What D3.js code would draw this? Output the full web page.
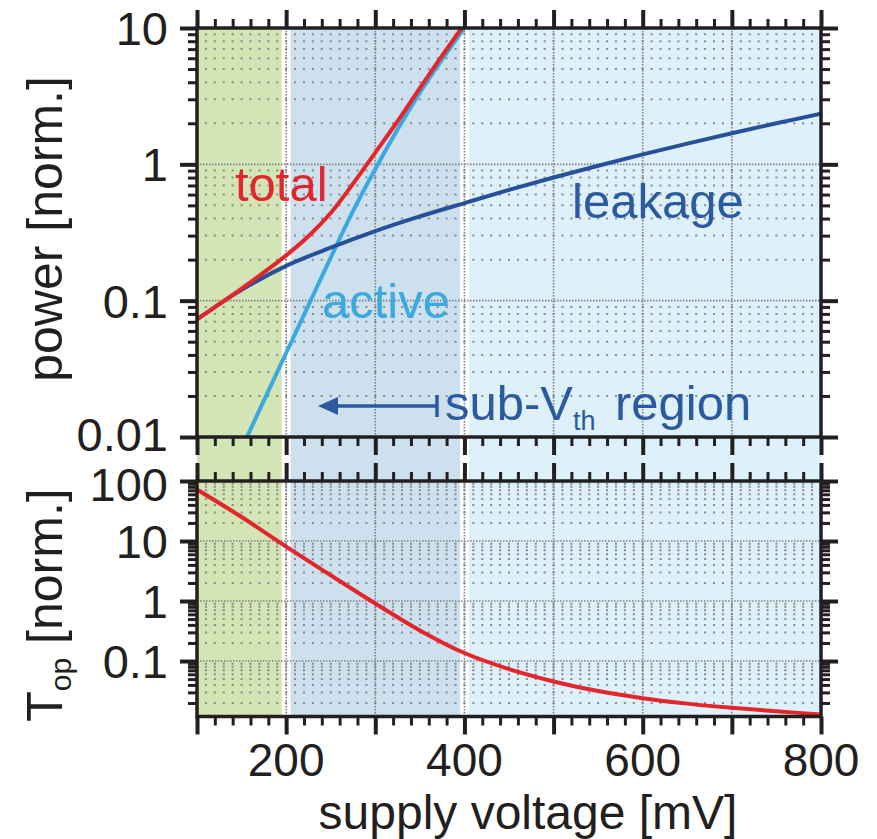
<!DOCTYPE html>
<html>
<head>
<meta charset="utf-8">
<script src="https://cdn.jsdelivr.net/npm/d3@7"></script>
<style>
  body { margin: 0; background: #fff; }
  svg { display: block; }
</style>
</head>
<body>
<svg id="chart"></svg>
<script>
// values
var leakageV     = [100, 150, 200, 250, 300, 350, 400, 450, 500, 550, 600, 650, 700, 750, 800];
var leakagePower = [0.073, 0.120, 0.180, 0.245, 0.324, 0.415, 0.520, 0.649, 0.800, 0.977, 1.183, 1.419, 1.690, 2.00, 2.35];

var activeV     = [156, 175, 200, 225, 250, 275, 300, 325, 350, 375, 400];
var activePower = [0.01, 0.0185, 0.0413, 0.0925, 0.207, 0.453, 0.925, 1.80, 3.36, 5.9, 10];

var totalV     = [100, 125, 150, 175, 200, 225, 250, 275, 300, 325, 350, 375, 397];
var totalPower = [0.073, 0.0944, 0.1227, 0.161, 0.215, 0.297, 0.44, 0.72, 1.22, 2.07, 3.62, 6.27, 10];

var topV    = [100, 150, 200, 250, 300, 350, 400, 450, 500, 550, 600, 650, 700, 750, 800];
var topNorm = [72, 25.1, 8.04, 2.69, 0.91, 0.324, 0.136, 0.0733, 0.0457, 0.0316, 0.024, 0.0195, 0.0166, 0.0145, 0.0129];

// shaded regions (mV)
var bandStart = [100, 205, 405];
var bandEnd   = [195, 395, 800];

var xTickLabels     = [200, 400, 600, 800];
var powerTickValues = [10, 1, 0.1, 0.01];
var powerTickLabels = ["10", "1", "0.1", "0.01"];
var topTickValues   = [100, 10, 1, 0.1];
var topTickLabels   = ["100", "10", "1", "0.1"];

// layout
var width = 877, height = 839;
var left = 197, right = 821;
var pTop = 28, pBottom = 437;
var tTop = 481, tBottom = 716.5;
var ink = "#231f20";
var font = "'Liberation Sans', Arial, Helvetica, sans-serif";

var xScale = d3.scaleLinear().domain([100, 800]).range([left, right]);
var yPower = d3.scaleLog().domain([0.01, 10]).range([pBottom, pTop]);
var yTop   = d3.scaleLog().domain([0.0119, 100]).range([tBottom, tTop]);

var svg = d3.select("#chart")
    .attr("width", width)
    .attr("height", height)
    .style("font-family", font);

// background bands
var bandColors = ["#d3e4b5", "#cde0ee", "#def0f9"];
svg.append("g")
  .selectAll("rect")
  .data(bandStart)
  .enter()
  .append("rect")
    .attr("x", d => xScale(d))
    .attr("width", (d, i) => xScale(bandEnd[i]) - xScale(d))
    .attr("y", pTop)
    .attr("height", tBottom - pTop)
    .attr("fill", (d, i) => bandColors[i]);

// minor / major values
function logMinors(scale) {
  var dom = scale.domain(), out = [];
  for (var e = -3; e <= 2; e++) {
    for (var m = 2; m <= 9; m++) {
      var v = m * Math.pow(10, e);
      if (v > dom[0] && v < dom[1]) out.push(v);
    }
  }
  return out;
}
var xMajor = d3.range(100, 801, 100);
var xMinor = d3.range(100, 801, 20).filter(d => d % 100 !== 0);

// dotted grid
function drawGrid(y, majors) {
  var g = svg.append("g");
  var period = xScale(110) - xScale(100);
  var r = y.range();
  g.selectAll("line.minor")
    .data(logMinors(y))
    .enter()
    .append("line")
      .attr("x1", left).attr("x2", right)
      .attr("y1", d => y(d)).attr("y2", d => y(d))
      .attr("stroke", "#8a8a8a")
      .attr("stroke-width", 2)
      .attr("stroke-dasharray", "2 " + (period - 2))
      .attr("stroke-dashoffset", 1);
  g.selectAll("line.hmajor")
    .data(majors)
    .enter()
    .append("line")
      .attr("x1", left).attr("x2", right)
      .attr("y1", d => y(d)).attr("y2", d => y(d))
      .attr("stroke", "#808080")
      .attr("stroke-width", 1.6)
      .attr("stroke-dasharray", "1.5 1.5");
  g.selectAll("line.vmajor")
    .data(xMajor.slice(1, -1))
    .enter()
    .append("line")
      .attr("x1", d => xScale(d)).attr("x2", d => xScale(d))
      .attr("y1", r[1]).attr("y2", r[0])
      .attr("stroke", "#808080")
      .attr("stroke-width", 1.6)
      .attr("stroke-dasharray", "1.5 1.5");
}
drawGrid(yPower, [1, 0.1]);
drawGrid(yTop, [10, 1, 0.1]);

// curves
function clipTo(id, y) {
  var r = y.range();
  svg.append("clipPath").attr("id", id)
    .append("rect")
      .attr("x", left).attr("y", r[1])
      .attr("width", right - left).attr("height", r[0] - r[1]);
}
clipTo("clipPower", yPower);
clipTo("clipTop", yTop);

function drawCurve(xs, ys, y, color, clip) {
  var line = d3.line()
      .x(d => xScale(d[0]))
      .y(d => y(d[1]))
      .curve(d3.curveCatmullRom.alpha(0.5));
  svg.append("path")
    .datum(xs.map((v, i) => [v, ys[i]]))
    .attr("d", line)
    .attr("fill", "none")
    .attr("stroke", color)
    .attr("stroke-width", 4)
    .attr("stroke-linecap", "round")
    .attr("clip-path", "url(#" + clip + ")");
}
drawCurve(activeV, activePower, yPower, "#3aa9df", "clipPower");
drawCurve(leakageV, leakagePower, yPower, "#27509b", "clipPower");
drawCurve(totalV, totalPower, yPower, "#e3262b", "clipPower");
drawCurve(topV, topNorm, yTop, "#e3262b", "clipTop");

// axes: ticks outward on all four sides
function styleAxis(g, w) {
  g.select(".domain").remove();
  g.selectAll("line").attr("stroke", ink).attr("stroke-width", w);
  g.selectAll("text").remove();
}
function drawAxes(y, majors) {
  var r = y.range();
  [[d3.axisTop, r[1]], [d3.axisBottom, r[0]]].forEach(function (a) {
    svg.append("g").attr("transform", "translate(0," + a[1] + ")")
      .call(a[0](xScale).tickValues(xMajor).tickSize(18).tickSizeOuter(0))
      .call(styleAxis, 4);
    svg.append("g").attr("transform", "translate(0," + a[1] + ")")
      .call(a[0](xScale).tickValues(xMinor).tickSize(9).tickSizeOuter(0))
      .call(styleAxis, 3);
  });
  [[d3.axisLeft, left], [d3.axisRight, right]].forEach(function (a) {
    svg.append("g").attr("transform", "translate(" + a[1] + ",0)")
      .call(a[0](y).tickValues(majors).tickSize(17).tickSizeOuter(0))
      .call(styleAxis, 4);
    svg.append("g").attr("transform", "translate(" + a[1] + ",0)")
      .call(a[0](y).tickValues(logMinors(y)).tickSize(9).tickSizeOuter(0))
      .call(styleAxis, 3);
  });
  svg.append("rect")
    .attr("x", left).attr("y", r[1])
    .attr("width", right - left).attr("height", r[0] - r[1])
    .attr("fill", "none")
    .attr("stroke", ink)
    .attr("stroke-width", 3.5);
}
drawAxes(yPower, powerTickValues);
drawAxes(yTop, topTickValues);

// tick labels
function yLabels(y, values, labels, shift) {
  svg.append("g")
    .selectAll("text")
    .data(values)
    .enter()
    .append("text")
      .attr("x", 168)
      .attr("y", (d, i) => y(d) + shift[i])
      .attr("dy", "0.36em")
      .attr("text-anchor", "end")
      .attr("font-size", 47)
      .attr("fill", ink)
      .text((d, i) => labels[i]);
}
yLabels(yPower, powerTickValues, powerTickLabels, [0, 0, 0, -3]);
yLabels(yTop, topTickValues, topTickLabels, [3, 0, 0, 0]);

svg.append("g")
  .selectAll("text")
  .data(xTickLabels)
  .enter()
  .append("text")
    .attr("x", d => xScale(d))
    .attr("y", 776)
    .attr("text-anchor", "middle")
    .attr("font-size", 46)
    .attr("fill", ink)
    .text(d => d);

// axis titles
svg.append("text")
    .attr("x", 528)
    .attr("y", 829)
    .attr("text-anchor", "middle")
    .attr("font-size", 48)
    .attr("fill", ink)
    .text("supply voltage [mV]");

svg.append("text")
    .attr("transform", "translate(62,229) rotate(-90)")
    .attr("text-anchor", "middle")
    .attr("font-size", 50)
    .attr("fill", ink)
    .text("power [norm.]");

var tTitle = svg.append("text")
    .attr("transform", "translate(62,605) rotate(-90)")
    .attr("text-anchor", "middle")
    .attr("font-size", 50)
    .attr("fill", ink);
tTitle.append("tspan").text("T");
tTitle.append("tspan").attr("font-size", 30).attr("dy", 9).text("op");
tTitle.append("tspan").attr("dy", -9).text(" [norm.]");

// curve annotations
svg.append("text")
    .attr("x", 235).attr("y", 201)
    .attr("font-size", 49)
    .attr("fill", "#e3262b")
    .text("total");

svg.append("text")
    .attr("x", 322).attr("y", 318)
    .attr("font-size", 49)
    .attr("fill", "#3aa9df")
    .text("active");

svg.append("text")
    .attr("x", 572).attr("y", 218)
    .attr("font-size", 49)
    .attr("fill", "#2b5aa0")
    .text("leakage");

var sub = svg.append("text")
    .attr("x", 445).attr("y", 420)
    .attr("font-size", 49)
    .attr("fill", "#2b5aa0");
sub.append("tspan").text("sub-V");
sub.append("tspan").attr("font-size", 27).attr("dy", 10).text("th");
sub.append("tspan").attr("x", 615).attr("dy", -10).text("region");

// arrow pointing into the sub-threshold region
var arrowY = 406;
var arrow = svg.append("g").attr("fill", "#2b5aa0").attr("stroke", "#2b5aa0");
arrow.append("line")
    .attr("x1", 336).attr("x2", 437)
    .attr("y1", arrowY).attr("y2", arrowY)
    .attr("stroke-width", 3.5);
arrow.append("line")
    .attr("x1", 437).attr("x2", 437)
    .attr("y1", arrowY - 11).attr("y2", arrowY + 11)
    .attr("stroke-width", 3.5);
arrow.append("path")
    .attr("d", "M318," + arrowY + "L338," + (arrowY - 9) + "L338," + (arrowY + 9) + "Z")
    .attr("stroke", "none");
</script>
</body>
</html>
